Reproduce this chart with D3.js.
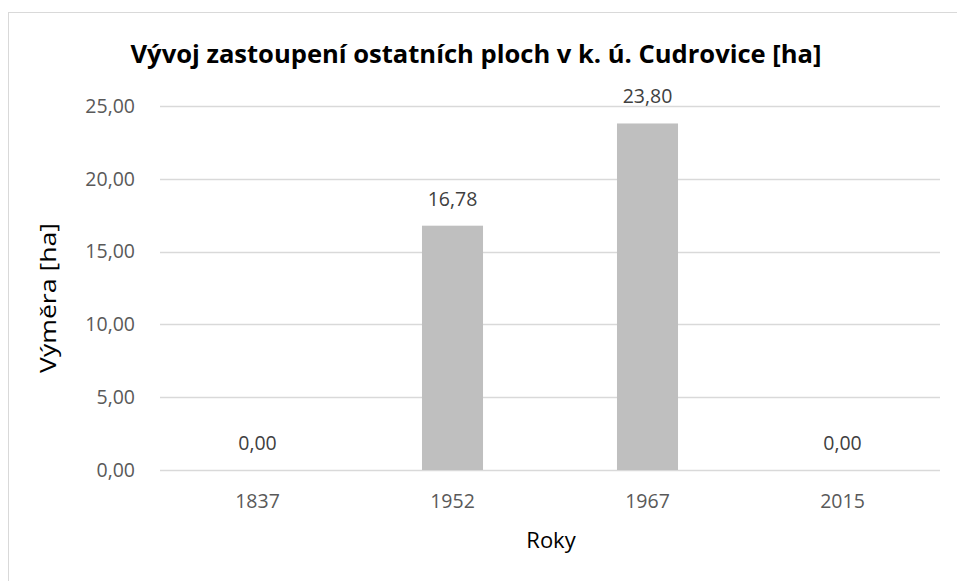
<!DOCTYPE html>
<html><head><meta charset="utf-8">
<script src="https://cdn.jsdelivr.net/npm/d3@7"></script>
<style>body{margin:0;background:#fff;} svg{display:block;}</style>
</head><body>
<svg id="c" width="957" height="581"></svg>
<script>
const categories = ["1837", "1952", "1967", "2015"];
const values = [0.00, 16.78, 23.80, 0.00];
const yTicks = [0, 5, 10, 15, 20, 25];
const title = "Vývoj zastoupení ostatních ploch v k. ú. Cudrovice [ha]";
const xTitle = "Roky";
const yTitle = "Výměra [ha]";

const svg = d3.select("#c");
const W = 957, H = 581;
const m = {left: 160, right: 17, top: 106, bottom: 111};
const fmt = v => d3.format(".2f")(v).replace(".", ",");
const font = "Open Sans, Lato, sans-serif";

svg.append("rect").attr("x", 8.5).attr("y", 12.5).attr("width", W).attr("height", H)
  .attr("fill", "#fff").attr("stroke", "#d9d9d9").attr("stroke-width", 1);

const x = d3.scaleBand().domain(categories).range([m.left, W - m.right]).paddingInner(0.687).paddingOuter(0.3435);
const y = d3.scaleLinear().domain([0, 25]).range([H - m.bottom, m.top]);

// gridlines
svg.append("g").selectAll("line").data(yTicks).join("line")
  .attr("x1", m.left).attr("x2", W - m.right)
  .attr("y1", d => Math.round(y(d)) + 0.5).attr("y2", d => Math.round(y(d)) + 0.5)
  .attr("stroke", "#d9d9d9").attr("stroke-width", 1.5);

// y axis labels
const yAxis = d3.axisLeft(y).tickValues(yTicks).tickFormat(fmt).tickSize(0).tickPadding(25);
const gy = svg.append("g").attr("transform", `translate(${m.left},0)`).call(yAxis);
gy.select(".domain").remove();
gy.selectAll("text").attr("font-family", font).attr("font-size", 19.5).attr("fill", "#595959");

// x axis labels
const xAxis = d3.axisBottom(x).tickSize(0).tickPadding(24);
const gx = svg.append("g").attr("transform", `translate(0,${y(0)})`).call(xAxis);
gx.select(".domain").remove();
gx.selectAll("text").attr("font-family", font).attr("font-size", 19.5).attr("fill", "#595959");

// bars
svg.append("g").selectAll("rect").data(values).join("rect")
  .attr("x", (d, i) => x(categories[i])).attr("width", x.bandwidth())
  .attr("y", d => y(d)).attr("height", d => y(0) - y(d))
  .attr("fill", "#bfbfbf");

// value labels
svg.append("g").selectAll("text").data(values).join("text")
  .attr("x", (d, i) => x(categories[i]) + x.bandwidth() / 2)
  .attr("y", d => y(d) - 20)
  .attr("text-anchor", "middle").attr("font-family", font).attr("font-size", 19.5).attr("fill", "#404040")
  .text(fmt);

// title
svg.append("text").attr("x", 476).attr("y", 63).attr("text-anchor", "middle")
  .attr("font-family", font).attr("font-size", 25).attr("font-weight", "bold").attr("fill", "#000")
  .attr("textLength", 691).attr("lengthAdjust", "spacingAndGlyphs")
  .text(title);

// axis titles
svg.append("text").attr("x", 551).attr("y", 548).attr("text-anchor", "middle")
  .attr("font-family", font).attr("font-size", 22).attr("fill", "#000").text(xTitle);
svg.append("text").attr("transform", `translate(56,298) rotate(-90)`).attr("text-anchor", "middle")
  .attr("font-family", font).attr("font-size", 22).attr("fill", "#000")
  .attr("textLength", 150).attr("lengthAdjust", "spacingAndGlyphs").text(yTitle);
</script>
</body></html>
